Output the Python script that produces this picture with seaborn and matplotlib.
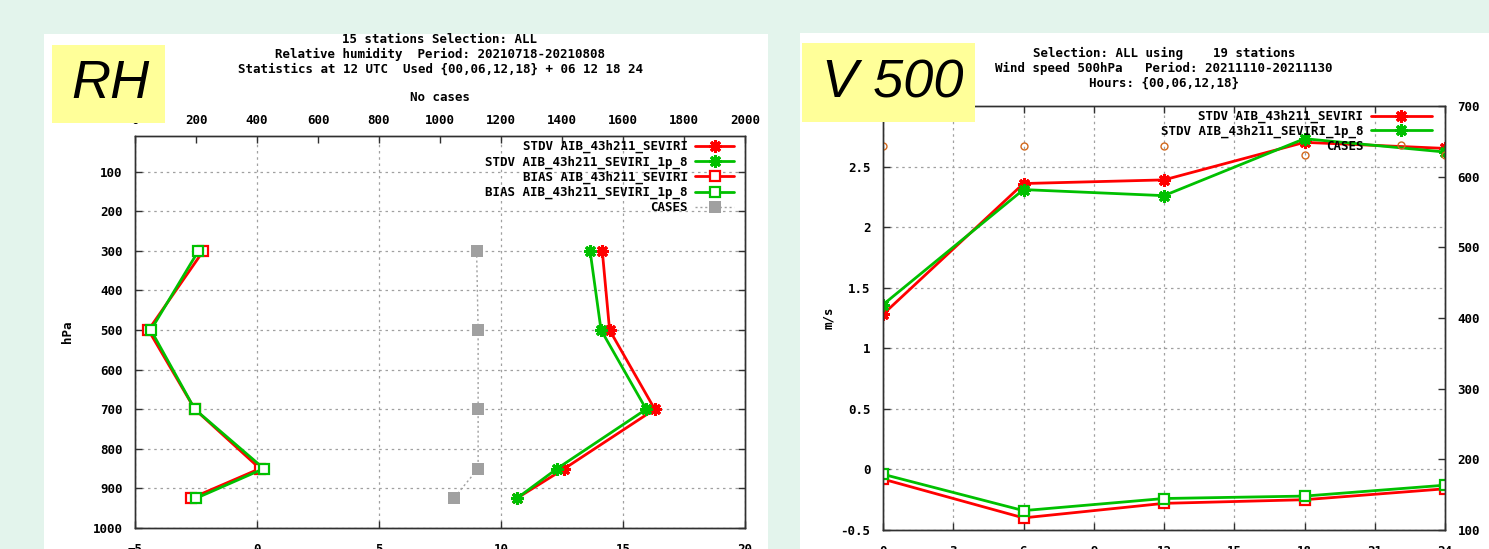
import numpy as np
import matplotlib
matplotlib.use("Agg")
import matplotlib.pyplot as plt
from matplotlib.patches import Rectangle
import seaborn as sns

# ---------------- Relative humidity vertical profile ----------------
rh_levels = [300, 500, 700, 850, 925]
rh_stdv_ref = [14.15, 14.45, 16.3, 12.6, 10.65]
rh_stdv_exp = [13.65, 14.1, 15.95, 12.3, 10.65]
rh_bias_ref = [-2.2, -4.45, -2.55, 0.12, -2.7]
rh_bias_exp = [-2.4, -4.35, -2.55, 0.28, -2.5]
rh_cases = [1120, 1125, 1125, 1125, 1045]

# ---------------- Wind speed 500 hPa vs forecast length ----------------
v_hours = [0, 6, 12, 18, 24]
v_stdv_ref = [1.28, 2.36, 2.39, 2.70, 2.65]
v_stdv_exp = [1.36, 2.31, 2.26, 2.73, 2.62]
v_bias_ref = [-0.08, -0.40, -0.28, -0.25, -0.16]
v_bias_exp = [-0.04, -0.34, -0.24, -0.22, -0.13]
v_cases = [643, 643, 643, 631, 631]

lbl_stdv_ref = "STDV AIB_43h211_SEVIRI"
lbl_stdv_exp = "STDV AIB_43h211_SEVIRI_1p_8"
lbl_bias_ref = "BIAS AIB_43h211_SEVIRI"
lbl_bias_exp = "BIAS AIB_43h211_SEVIRI_1p_8"
lbl_cases = "CASES"

rh_title = ("15 stations Selection: ALL\n"
            "Relative humidity  Period: 20210718-20210808\n"
            "Statistics at 12 UTC  Used {00,06,12,18} + 06 12 18 24")
v_title = ("Selection: ALL using    19 stations\n"
           "Wind speed 500hPa   Period: 20211110-20211130\n"
           "Hours: {00,06,12,18}")

# ---------------- style ----------------
sns.set_style("ticks")
plt.rcParams["font.family"] = ["DejaVu Sans Mono"]
plt.rcParams["font.weight"] = "bold"
plt.rcParams["font.size"] = 9
plt.rcParams["axes.labelweight"] = "bold"
for key in ("text.color", "axes.labelcolor", "xtick.labelcolor",
            "ytick.labelcolor"):
    plt.rcParams[key] = "black"

RED = "#ff0000"
GREEN = "#00c000"
GREY = "#a0a0a0"
ORANGE = "#d2691e"
BG = "#e3f4ec"
AX_COL = "#303030"

W, H = 1489, 549
fig = plt.figure(figsize=(W / 100, H / 100), dpi=100, facecolor=BG)


def fx(px):
    return px / W


def fy(py):
    return 1 - py / H


# white panels
fig.add_artist(Rectangle((fx(44), 0), fx(724), (H - 34) / H,
                         transform=fig.transFigure, facecolor="white",
                         edgecolor="none", zorder=-1))
fig.add_artist(Rectangle((fx(800), 0), fx(689), (H - 33) / H,
                         transform=fig.transFigure, facecolor="white",
                         edgecolor="none", zorder=-1))

star = (8, 2, 0)
grid_kw = dict(color=GREY, linestyle=(0, (2, 3)), linewidth=0.9)


def style_axis(a):
    for s in a.spines.values():
        s.set_color(AX_COL)
        s.set_linewidth(1.0)
    a.tick_params(direction="in", length=5, width=1, color=AX_COL,
                  labelsize=9, pad=9, labelcolor="black")


def stdv(ax, x, y, color, label, orient="x"):
    sns.lineplot(x=x, y=y, ax=ax, color=color, lw=2.0, marker=star, ms=9,
                 mew=2.2, mec=color, estimator=None, sort=False,
                 orient=orient, label=label)


def bias(ax, x, y, color, label, orient="x"):
    sns.lineplot(x=x, y=y, ax=ax, color=color, lw=2.0, marker="s", ms=7,
                 mew=1.6, mec=color, mfc="white", estimator=None,
                 sort=False, orient=orient, label=label)


# =============== RH profile panel ===============
ax1 = fig.add_axes([fx(135), 21 / H, fx(610), 392 / H])
ax1.set_facecolor("white")
stdv(ax1, rh_stdv_ref, rh_levels, RED, lbl_stdv_ref, orient="y")
stdv(ax1, rh_stdv_exp, rh_levels, GREEN, lbl_stdv_exp, orient="y")
bias(ax1, rh_bias_ref, rh_levels, RED, lbl_bias_ref, orient="y")
bias(ax1, rh_bias_exp, rh_levels, GREEN, lbl_bias_exp, orient="y")
ax1.set_xlim(-5, 20)
ax1.set_ylim(1000, 10)
ax1.set_xticks(np.arange(-5, 21, 5))
ax1.set_yticks(np.arange(100, 1001, 100))
ax1.grid(True, **grid_kw)
ax1.set_ylabel("hPa")
ax1.yaxis.set_label_coords((74 - 135) / 610, 0.5)
ax1.set_xlabel("")
style_axis(ax1)
ax1.tick_params(axis="x", pad=11)
ax1.tick_params(axis="y", right=True)

ax1t = ax1.twiny()
sns.lineplot(x=rh_cases, y=rh_levels, ax=ax1t, color=GREY, lw=1.0,
             linestyle=(0, (1.5, 2)), marker="s", ms=8, mew=0, mfc=GREY,
             mec=GREY, estimator=None, sort=False, orient="y",
             label=lbl_cases)
ax1t.set_xlim(0, 2000)
ax1t.set_ylim(1000, 10)
ax1t.set_xticks(np.arange(0, 2001, 200))
ax1t.set_xlabel("No cases", labelpad=9)
style_axis(ax1t)
ax1t.tick_params(axis="x", pad=6.5)
if ax1.get_legend() is not None:
    ax1.get_legend().remove()
h1, l1 = ax1.get_legend_handles_labels()
h2, l2 = ax1t.get_legend_handles_labels()
ax1t.legend(h1 + h2, l1 + l2, loc="upper right", markerfirst=False,
            frameon=False, handlelength=3.1, handletextpad=0.6,
            labelspacing=0.16, borderpad=0, borderaxespad=0,
            bbox_to_anchor=(fx(734), fy(140)),
            bbox_transform=fig.transFigure, fontsize=9)

fig.text(fx(440), fy(33), rh_title, ha="center", va="top", fontsize=9,
         fontweight="bold", linespacing=1.2)

# =============== V500 panel ===============
ax2 = fig.add_axes([fx(883), 19 / H, fx(562), 424 / H])
ax2.set_facecolor("white")
stdv(ax2, v_hours, v_stdv_ref, RED, lbl_stdv_ref)
stdv(ax2, v_hours, v_stdv_exp, GREEN, lbl_stdv_exp)
bias(ax2, v_hours, v_bias_ref, RED, None)
bias(ax2, v_hours, v_bias_exp, GREEN, None)
ax2.set_xlim(0, 24)
ax2.set_ylim(-0.5, 3.0)
ax2.set_xticks(np.arange(0, 25, 3))
ax2.set_yticks(np.arange(-0.5, 2.51, 0.5))
ax2.set_yticklabels(["-0.5", "0", "0.5", "1", "1.5", "2", "2.5"])
ax2.grid(True, **grid_kw)
ax2.set_ylabel("m/s")
ax2.yaxis.set_label_coords((835 - 883) / 562, 0.5)
ax2.set_xlabel("")
style_axis(ax2)
ax2.tick_params(axis="x", pad=11, top=True)

ax2r = ax2.twinx()
sns.lineplot(x=v_hours, y=v_cases, ax=ax2r, color=ORANGE, linestyle="none",
             marker="o", ms=5, mew=1.0, mec=ORANGE, mfc="none",
             estimator=None, sort=False, label=lbl_cases)
ax2r.set_ylim(100, 700)
ax2r.set_yticks(np.arange(100, 701, 100))
style_axis(ax2r)
if ax2.get_legend() is not None:
    ax2.get_legend().remove()
h1, l1 = ax2.get_legend_handles_labels()
h2, l2 = ax2r.get_legend_handles_labels()
keep = [(h, l) for h, l in zip(h1 + h2, l1 + l2) if not l.startswith("_")]
ax2r.legend([k[0] for k in keep], [k[1] for k in keep], loc="upper right",
            markerfirst=False, frameon=False, handlelength=4.9,
            handletextpad=0.6, labelspacing=0.12, borderpad=0,
            borderaxespad=0, bbox_to_anchor=(fx(1432), fy(110)),
            bbox_transform=fig.transFigure, fontsize=9)

fig.text(fx(1164), fy(47), v_title, ha="center", va="top", fontsize=9,
         fontweight="bold", linespacing=1.2)

# =============== variable tags ===============
tag_font = ["Liberation Sans", "DejaVu Sans"]
fig.add_artist(Rectangle((fx(52), fy(123)), fx(113), 78 / H,
                         transform=fig.transFigure, facecolor="#ffff99",
                         edgecolor="none", zorder=10))
fig.text(fx(110), fy(84), "RH", ha="center", va="center", fontsize=39,
         style="italic", fontweight="normal", family=tag_font,
         color="black", zorder=11)
fig.add_artist(Rectangle((fx(802), fy(122)), fx(173), 79 / H,
                         transform=fig.transFigure, facecolor="#ffff99",
                         edgecolor="none", zorder=10))
fig.text(fx(893), fy(84), "V 500", ha="center", va="center", fontsize=39,
         style="italic", fontweight="normal", family=tag_font,
         color="black", zorder=11)

fig.savefig("out.png", dpi=100, facecolor=BG)
